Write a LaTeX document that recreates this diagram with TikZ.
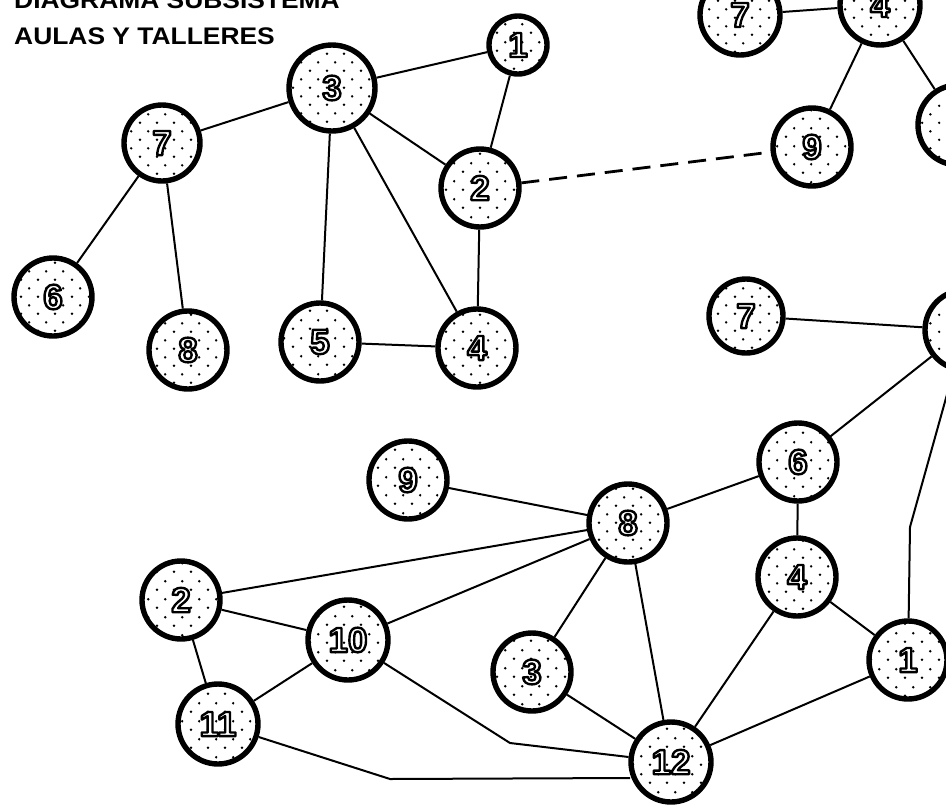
\documentclass[tikz,border=0pt]{standalone}
\usepackage{fontspec}
\setmainfont{Liberation Sans}
\usetikzlibrary{calc,patterns.meta}
\tikzdeclarepattern{
  name=sdots,
  type=uncolored,
  bounding box={(0pt,0pt) and (17pt,17.4pt)},
  tile size={(17pt,17.4pt)},
  code={
    \fill (4.25pt,4.35pt) circle (1.4pt);
    \fill (12.75pt,13.05pt) circle (1.4pt);
  }
}
\tikzset{
  circnode/.style={circle, draw=black, line width=5.4pt, inner sep=0pt,
    preaction={fill=white}, pattern=sdots, pattern color=black},
  numlbl/.style={inner sep=0pt, font=\fontsize{35}{35}\selectfont\bfseries},
  edge/.style={line width=2pt},
  dashedge/.style={line width=2.8pt, dash pattern=on 18pt off 10pt},
  titletxt/.style={anchor=base west, inner sep=0pt, font=\fontsize{24}{24}\selectfont\bfseries}
}
\newcommand\outl[1]{\textcolor{white}{\special{pdf:literal direct 0 G 2 Tr 2.4 w 1 j}#1\special{pdf:literal direct 0 Tr}}}
\newcommand\nd[5]{%
  \node[circnode, minimum size={2*#4pt}] (#1) at (#2,#3) {};
  \node[numlbl] at (#2,#3) {\outl{#5}};
}
\begin{document}
\begin{tikzpicture}[x=1pt,y=-1pt]
\useasboundingbox (0,0) rectangle (946,804);
\fill[white] (0,0) rectangle (946,804);
% title
\node[titletxt] (t1) at (14,8) {\scalebox{1.1}[1]{DIAGRAMA SUBSISTEMA}};
\node[titletxt] (t2) at (14,44) {\scalebox{1.1}[1]{AULAS Y TALLERES}};
% left group
\nd{a3}{332}{88}{43}{3}
\nd{a1}{518}{45}{29}{1}
\nd{a7}{162}{143}{38}{7}
\nd{a2}{480}{188}{39}{2}
\nd{a6}{53}{297}{39}{6}
\nd{a8}{188}{350}{39}{8}
\nd{a5}{320}{342}{39}{5}
\nd{a4}{477}{348}{39}{4}
% top right group
\nd{b7}{740}{15}{40}{7}
\nd{b4}{880}{5}{40}{4}
\nd{b9}{812}{147}{39}{9}
\nd{bx}{958}{125}{40}{}
% middle right
\nd{c7}{746}{316}{37}{7}
\nd{cx}{965}{330}{40}{}
\nd{c6}{798}{462}{39}{6}
\nd{c4}{797}{577}{39}{4}
\nd{c1}{908}{660}{39}{1}
% bottom
\nd{d9}{408}{480}{39}{9}
\nd{d8}{628}{523}{39}{8}
\nd{d3}{532}{672}{39}{3}
\nd{d12}{671}{762}{40}{12}
\nd{d2}{181}{600}{39}{2}
\nd{d10}{348}{640}{40}{10}
\nd{d11}{218}{724}{40}{11}
% bend points
\coordinate (k1) at (910,527);
\coordinate (k2) at (510,743);
\coordinate (k3) at (390,779);
\coordinate (k4) at (630,778);
% edges left
\draw[edge] (a3) -- (a1);
\draw[edge] (a3) -- (a7);
\draw[edge] (a3) -- (a2);
\draw[edge] (a3) -- (a5);
\draw[edge] (a3) -- (a4);
\draw[edge] (a1) -- (a2);
\draw[edge] (a2) -- (a4);
\draw[edge] (a5) -- (a4);
\draw[edge] (a7) -- (a6);
\draw[edge] (a7) -- (a8);
\draw[dashedge] (a2) -- (b9);
% top right
\draw[edge] (b7) -- (b4);
\draw[edge] (b4) -- (b9);
\draw[edge] (b4) -- (bx);
% middle
\draw[edge] (c7) -- (cx);
\draw[edge] (cx) -- (c6);
\draw[edge] (cx) -- (k1) -- (c1);
\draw[edge] (c6) -- (c4);
\draw[edge] (c6) -- (d8);
\draw[edge] (c4) -- (c1);
\draw[edge] (c4) -- (d12);
\draw[edge] (c1) -- (d12);
% bottom
\draw[edge] (d9) -- (d8);
\draw[edge] (d8) -- (d2);
\draw[edge] (d8) -- (d10);
\draw[edge] (d8) -- (d3);
\draw[edge] (d8) -- (d12);
\draw[edge] (d3) -- (d12);
\draw[edge] (d2) -- (d10);
\draw[edge] (d2) -- (d11);
\draw[edge] (d10) -- (d11);
\draw[edge] (d10) -- (k2) -- (d12);
\draw[edge] (d11) -- (k3) -- (k4);
\end{tikzpicture}
\end{document}
